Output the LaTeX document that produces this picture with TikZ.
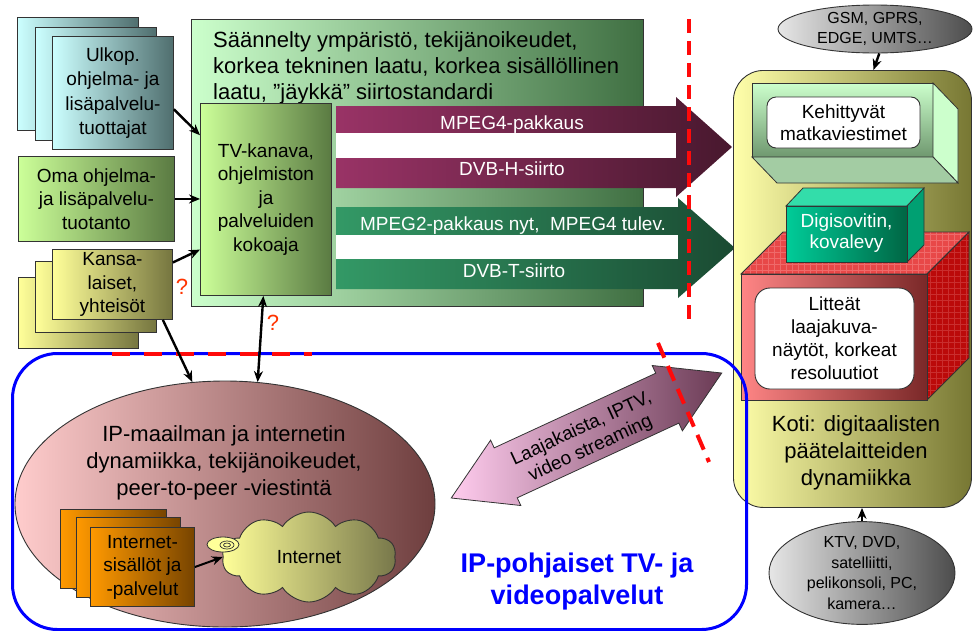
\documentclass[tikz,border=0pt]{standalone}
\usepackage{fontspec}
\setmainfont{Liberation Sans}
\usetikzlibrary{arrows.meta,shapes.geometric,shapes.symbols,calc,patterns.meta}

% palette
\definecolor{cyanL}{HTML}{CCFFFF}
\definecolor{cyanD}{HTML}{4F6E6E}
\definecolor{limeL}{HTML}{CCFF99}
\definecolor{limeD}{HTML}{5A7A42}
\definecolor{yelL}{HTML}{FFFF99}
\definecolor{yelD}{HTML}{75753F}
\definecolor{regL}{HTML}{CCFFCC}
\definecolor{regD}{HTML}{3F6F42}
\definecolor{marL}{HTML}{993366}
\definecolor{marD}{HTML}{48182E}
\definecolor{dgrL}{HTML}{339966}
\definecolor{dgrD}{HTML}{1A4A32}
\definecolor{homeL}{HTML}{FFFFAA}
\definecolor{homeD}{HTML}{777733}
\definecolor{grayL}{HTML}{E6E6E6}
\definecolor{grayD}{HTML}{4D4D4D}
\definecolor{pinkL}{HTML}{FFCCCC}
\definecolor{pinkD}{HTML}{6E3E3E}
\definecolor{orL}{HTML}{FF9900}
\definecolor{orD}{HTML}{774400}
\definecolor{cloudL}{HTML}{FFFF99}
\definecolor{cloudD}{HTML}{77774A}
\definecolor{ipaL}{HTML}{FFCCEE}
\definecolor{ipaD}{HTML}{6B3B55}
\definecolor{qmark}{HTML}{FF3300}
\definecolor{dashred}{HTML}{FF0A0A}
\definecolor{mobTop}{HTML}{CCFFCC}
\definecolor{mobBot}{HTML}{6F986F}
\definecolor{mobUnder}{HTML}{A3CCA3}
\definecolor{stbTop}{HTML}{33DDAA}
\definecolor{stbL}{HTML}{00CC99}
\definecolor{stbD}{HTML}{006644}
\definecolor{stbSide}{HTML}{00A072}
\definecolor{tvL}{HTML}{FF8585}
\definecolor{tvD}{HTML}{7A2828}
\definecolor{tvTop}{HTML}{E84848}
\definecolor{tvTopGrid}{HTML}{EF6A6A}
\definecolor{tvSide}{HTML}{BB0A0A}
\definecolor{tvSideGrid}{HTML}{C92E2E}

\begin{document}
\begin{tikzpicture}[x=1pt,y=-1pt,
  box/.style={draw=black!80, line width=0.9pt, inner sep=0pt, align=center,
    font=\fontsize{19}{23.5}\selectfont},
  conn/.style={line width=2.4pt, -{Stealth[length=11pt,width=9pt]}},
  conn2/.style={line width=2.4pt, {Stealth[length=11pt,width=9pt]}-{Stealth[length=11pt,width=9pt]}},
  bandtxt/.style={text=white, anchor=base, inner sep=0pt, font=\fontsize{19}{23}\selectfont},
  redline/.style={dashred, line width=4pt},
  face/.style={draw=black!80, line width=0.8pt},
  qm/.style={text=qmark, inner sep=0pt, font=\fontsize{22}{26}\selectfont},
]
\useasboundingbox (0,0) rectangle (973,630);

% ---------- regulated broadcast environment ----------
\node[box, left color=regL, right color=regD, minimum width=452, minimum height=287,
  anchor=north west] (reg) at (191,19) {};
\node[anchor=north west, inner sep=0pt, align=left, font=\fontsize{22}{26}\selectfont]
  (regtxt) at (213,31) {Säännelty ympäristö, tekijänoikeudet,\\korkea tekninen laatu, korkea sisällöllinen\\laatu, ”jäykkä” siirtostandardi};

\node[box, left color=limeL, right color=limeD, minimum width=131, minimum height=192,
  anchor=north west] (tv) at (200,103) {TV-kanava,\\ohjelmiston\\ja\\palveluiden\\kokoaja};

% mobile broadcast band (maroon)
\shade[left color=marL, right color=marD]
  (336,106) -- (676,106) -- (676,97) -- (732,147) -- (676,197) -- (676,188) -- (336,188) -- cycle;
\fill[white] (336,133) rectangle (676,158);
\node[bandtxt] (mpeg4) at (512,129) {MPEG4-pakkaus};
\node[bandtxt] (dvbh) at (512,175) {DVB-H-siirto};

% terrestrial broadcast band (green)
\shade[left color=dgrL, right color=dgrD]
  (336,207) -- (678,207) -- (678,198) -- (735,248) -- (678,298) -- (678,289) -- (336,289) -- cycle;
\fill[white] (336,235) rectangle (678,259);
\node[bandtxt] (mpeg2) at (513,230) {MPEG2-pakkaus nyt,\ \ MPEG4 tulev.};
\node[bandtxt] (dvbt) at (514,277) {DVB-T-siirto};

% ---------- content producers ----------
\node[box, left color=cyanL, right color=cyanD, minimum width=121, minimum height=113,
  anchor=north west] (ulk1) at (17,17) {};
\node[box, left color=cyanL, right color=cyanD, minimum width=121, minimum height=113,
  anchor=north west] (ulk2) at (35,27) {};
\node[box, left color=cyanL, right color=cyanD, minimum width=121, minimum height=113,
  anchor=north west, font=\fontsize{19}{24.5}\selectfont] (ulk3) at (52,36)
  {Ulkop.\\ohjelma- ja\\lisäpalvelu-\\tuottajat};

\node[box, left color=limeL, right color=limeD, minimum width=156, minimum height=85,
  anchor=north west] (oma) at (18,156) {Oma ohjelma-\\ja lisäpalvelu-\\tuotanto};

\node[box, left color=yelL, right color=yelD, minimum width=120, minimum height=71,
  anchor=north west] (kan1) at (18,277) {};
\node[box, left color=yelL, right color=yelD, minimum width=121, minimum height=71,
  anchor=north west] (kan2) at (35,261) {};
\node[box, left color=yelL, right color=yelD, minimum width=120, minimum height=70,
  anchor=north west] (kan3) at (52,249) {Kansa-\\laiset,\\yhteisöt};

% ---------- home terminals ----------
\node[box, rounded corners=30pt, left color=homeL, right color=homeD,
  minimum width=238, minimum height=437, anchor=north west] (home) at (733,70) {};
\node[align=center, inner sep=0pt, font=\fontsize{22}{27}\selectfont] (koti) at (856,453)
  {Koti: digitaalisten\\päätelaitteiden\\dynamiikka};

% mobile handsets block
\shade[face, top color=mobTop, bottom color=mobBot] (752,83) rectangle (933,157);
\fill[face, fill=mobTop] (933,83) -- (958,109) -- (958,183) -- (933,157) -- cycle;
\fill[face, fill=mobUnder] (752,157) -- (933,157) -- (958,183) -- (777,183) -- cycle;
\node[box, fill=white, rounded corners=9pt, minimum width=153, minimum height=51,
  font=\fontsize{19}{22.5}\selectfont] (mob) at (843.5,122.5) {Kehittyvät\\matkaviestimet};

% flat screen block
\fill[tvTop] (741,274) -- (783,232) -- (969,232) -- (927,274) -- cycle;
\fill[pattern={Hatch[angle=0,distance=6pt,line width=0.4pt]}, pattern color=tvTopGrid]
  (741,274) -- (783,232) -- (969,232) -- (927,274) -- cycle;
\fill[tvSide] (927,274) -- (969,232) -- (969,358) -- (927,400) -- cycle;
\fill[pattern={Hatch[angle=0,distance=6pt,line width=0.4pt]}, pattern color=tvSideGrid]
  (927,274) -- (969,232) -- (969,358) -- (927,400) -- cycle;
\draw[face] (741,274) -- (783,232) -- (969,232) -- (927,274) -- cycle;
\draw[face] (927,274) -- (969,232) -- (969,358) -- (927,400) -- cycle;
\shade[face, left color=tvL, right color=tvD] (741,274) rectangle (927,400);
\node[box, fill=white, rounded corners=15pt, minimum width=159, minimum height=101,
  font=\fontsize{19}{23}\selectfont] (flat) at (834.5,338.5)
  {Litteät\\laajakuva-\\näytöt, korkeat\\resoluutiot};

% set-top box block
\fill[face, fill=stbTop] (786,206) -- (803,188) -- (924,188) -- (907,206) -- cycle;
\fill[face, fill=stbSide] (907,206) -- (924,188) -- (924,245) -- (907,262) -- cycle;
\shade[face, left color=stbL, right color=stbD] (786,206) rectangle (907,262);
\node[align=center, inner sep=0pt, text=white, font=\fontsize{19}{21}\selectfont]
  (stb) at (846.5,233) {Digisovitin,\\kovalevy};

% access networks
\node[draw=black!80, line width=0.9pt, ellipse, left color=grayL, right color=grayD,
  minimum width=194, minimum height=48, inner sep=0pt, align=center,
  font=\fontsize{16}{19.5}\selectfont] (gsm) at (875,29) {GSM, GPRS,\\EDGE, UMTS…};
\node[draw=black!80, line width=0.9pt, ellipse, left color=grayL, right color=grayD,
  minimum width=186, minimum height=92, inner sep=0pt, align=center,
  font=\fontsize{16}{20.5}\selectfont] (ktv) at (862,573)
  {KTV, DVD,\\satelliitti,\\pelikonsoli, PC,\\kamera…};

% ---------- IP world ----------
\node[draw=black!80, line width=0.9pt, ellipse, left color=pinkL, right color=pinkD,
  minimum width=420, minimum height=246, inner sep=0pt] (ipel) at (225,504) {};
\node[align=center, inner sep=0pt, font=\fontsize{22}{27}\selectfont] (iptxt) at (224,463)
  {IP-maailman ja internetin\\dynamiikka, tekijänoikeudet,\\peer-to-peer -viestintä};

\node[box, left color=orL, right color=orD, minimum width=106, minimum height=79,
  anchor=north west] (or1) at (60,509) {};
\node[box, left color=orL, right color=orD, minimum width=104, minimum height=80,
  anchor=north west] (or2) at (76,517) {};
\node[box, left color=orL, right color=orD, minimum width=104, minimum height=79,
  anchor=north west] (or3) at (90,527) {Internet-\\sisällöt ja\\-palvelut};

\node[draw=black!80, line width=0.9pt, cloud, cloud puffs=10, cloud puff arc=115, aspect=2,
  left color=cloudL, right color=cloudD, minimum width=174, minimum height=90, inner sep=0pt,
  font=\fontsize{19}{23}\selectfont] (cloud) at (309,557) {Internet};
\node[draw=black!80, line width=0.8pt, ellipse, fill=cloudL, minimum width=32, minimum height=15,
  inner sep=0pt] (bub) at (223,544.5) {};
\draw[black!80, line width=0.7pt] (227,545) ellipse [x radius=7, y radius=4];
\draw[black!80, line width=0.7pt] (227,545) ellipse [x radius=3.5, y radius=2];

% broadband double arrow
\begin{scope}[shift={(586.5,435.5)}, rotate=24.8]
  \shade[draw=black!80, line width=0.8pt, left color=ipaL, right color=ipaD]
    (-149,0) -- (-89,36) -- (-89,27.5) -- (89,27.5) -- (89,36) -- (149,0) -- (89,-36)
    -- (89,-27.5) -- (-89,-27.5) -- (-89,-36) -- cycle;
\end{scope}
\node[rotate=24.8, align=center, inner sep=0pt, text=black, font=\fontsize{19}{22}\selectfont]
  (ipa) at (586,439) {Laajakaista, IPTV,\\video streaming};

% IP services frame
\node[draw=blue, line width=3pt, rounded corners=45pt, minimum width=734, minimum height=276,
  anchor=north west] (ipframe) at (11,352) {};
\node[align=center, inner sep=0pt, text=blue, font=\fontsize{27}{32}\bfseries\selectfont]
  (iptitle) at (577,582) {IP-pohjaiset TV- ja\\videopalvelut};

% ---------- boundaries ----------
\draw[redline, dash pattern=on 14pt off 8pt] (689,19) -- (689,322);
\draw[redline, dash pattern=on 18pt off 14pt] (112,354) -- (312,354);
\draw[redline, dash pattern=on 16pt off 9pt] (658,343) -- (709,462);

% ---------- connectors ----------
\draw[conn] (ulk3.-15) -- ($(tv.north west)!0.167!(tv.south west)$);
\draw[conn] (oma.east) -- (oma.east -| tv.west);
\draw[conn] (kan3.20) -- ($(tv.north west)!0.76!(tv.south west)$);
\draw[conn] ($(kan3.south west)!0.917!(kan3.south east)$) -- (ipel.105);
\draw[conn2] ($(tv.south west)!0.48!(tv.south east)$) -- (ipel.75);
\draw[conn] (gsm.-80) -- ($(home.north west)!0.588!(home.north east)$);
\draw[conn] (ktv.north) -- (ktv.north |- home.south);
\draw[conn, line width=2pt] (or3.east |- 0,567) -- (cloud.west);

\node[qm] (q1) at (182,287) {?};
\node[qm] (q2) at (273,323) {?};
\end{tikzpicture}
\end{document}
